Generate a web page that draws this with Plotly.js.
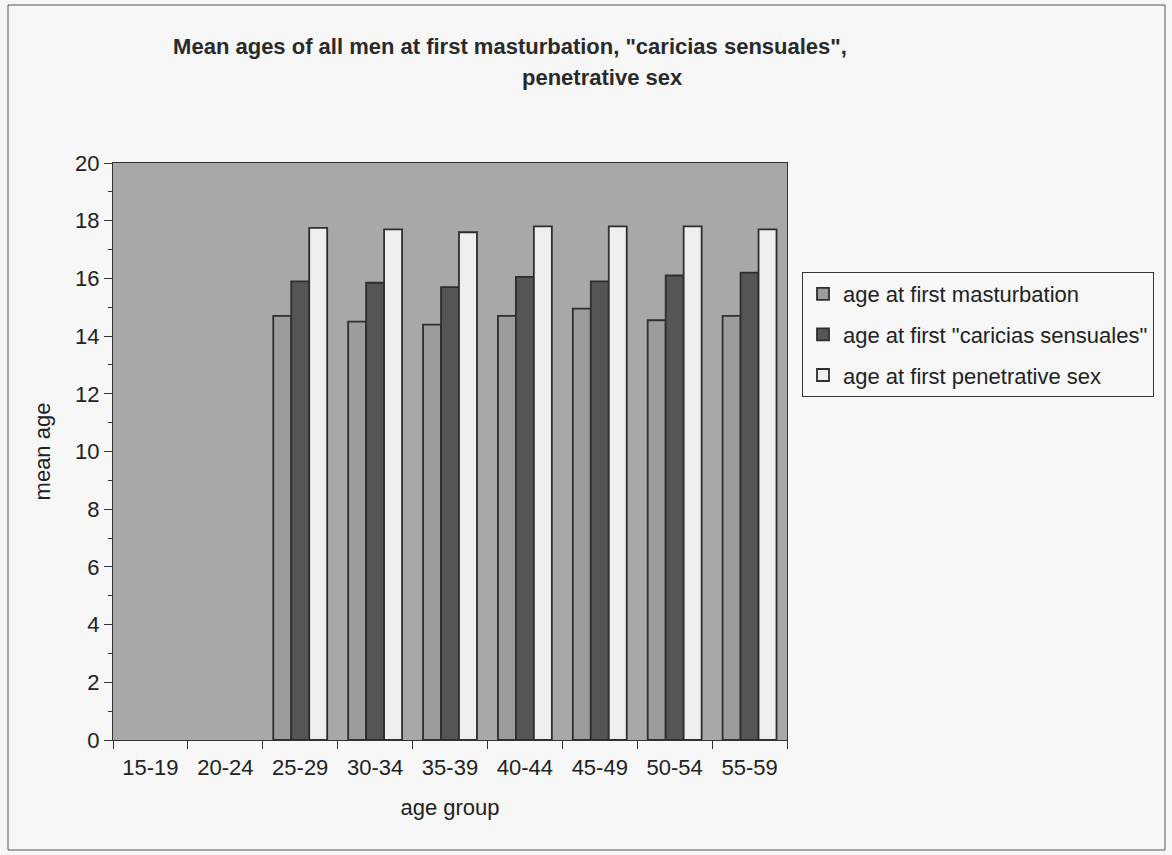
<!DOCTYPE html>
<html>
<head>
<meta charset="utf-8">
<script src="https://cdn.plot.ly/plotly-3.0.1.min.js"></script>
<style>html,body{margin:0;padding:0;background:#f7f7f7;}#chart{width:1172px;height:855px;}</style>
</head>
<body>
<div id="chart"></div>
<script>
const categories = ["15-19","20-24","25-29","30-34","35-39","40-44","45-49","50-54","55-59"];
const masturbation = [null, null, 14.7, 14.5, 14.4, 14.7, 14.95, 14.55, 14.7];
const caricias = [null, null, 15.9, 15.85, 15.7, 16.05, 15.9, 16.1, 16.2];
const penetrative = [null, null, 17.75, 17.7, 17.6, 17.8, 17.8, 17.8, 17.7];
const seriesNames = ["age at first masturbation", "age at first \"caricias sensuales\"", "age at first penetrative sex"];
const titleLines = ["Mean ages of all men at first masturbation, \"caricias sensuales\",", "penetrative sex"];

const font = "Liberation Sans, Arial, sans-serif";
const outline = {color: "#2e2e2e", width: 1.8};
const traces = [
  {type: "bar", x: categories, y: masturbation, name: seriesNames[0], legendgroup: "a", marker: {color: "#9c9c9c", line: outline}},
  {type: "bar", x: categories, y: caricias, name: seriesNames[1], legendgroup: "b", marker: {color: "#555555", line: outline}},
  {type: "bar", x: categories, y: penetrative, name: seriesNames[2], legendgroup: "c", marker: {color: "#efefef", line: outline}}
];

const W = 1172, H = 855, L = 113, R = 787, T = 163, B = 740;
const pw = R - L, ph = B - T;

const layout = {
  width: W, height: H,
  paper_bgcolor: "#f7f7f7",
  plot_bgcolor: "#a8a8a8",
  margin: {l: L, r: W - R, t: T, b: H - B, autoexpand: false},
  font: {family: font, color: "#222", size: 20},
  title: {text: "<b>" + titleLines[0] + "</b>",
          x: 510 / W, xanchor: "center", xref: "container", y: 1 - 39 / H, yanchor: "top", yref: "container",
          font: {family: font, size: 22, color: "#2a2a2a"}},
  annotations: [
    {text: "<b>" + titleLines[1] + "</b>", xref: "paper", yref: "paper",
     x: (602 - L) / pw, y: (B - 78) / ph, xanchor: "center", yanchor: "middle", showarrow: false,
     font: {family: font, size: 22, color: "#2a2a2a"}}
  ],
  barmode: "group",
  bargap: 0.28,
  bargroupgap: 0,
  showlegend: true,
  legend: {x: (802 - L) / pw, y: (B - 272) / ph, xanchor: "left", yanchor: "top",
           bgcolor: "#f7f7f7", bordercolor: "#333", borderwidth: 1,
           font: {family: font, size: 22, color: "#222"}, tracegroupgap: 9, itemwidth: 30},
  xaxis: {
    type: "category", categoryorder: "array", categoryarray: categories,
    tickson: "boundaries", ticks: "outside", ticklen: 8, tickcolor: "#333",
    ticklabelstandoff: 8,
    showline: true, linecolor: "#333", linewidth: 1, mirror: true,
    showgrid: false, zeroline: false, automargin: false,
    tickfont: {family: font, size: 22, color: "#222"},
    title: {text: "age group", font: {family: font, size: 22, color: "#222"}, standoff: 20}
  },
  yaxis: {
    range: [0, 20], dtick: 2, ticks: "outside", ticklen: 8, tickcolor: "#333",
    minor: {dtick: 1, ticks: "outside", ticklen: 4, tickcolor: "#333"},
    showline: true, linecolor: "#333", linewidth: 1, mirror: true,
    showgrid: false, zeroline: false, automargin: false,
    tickfont: {family: font, size: 22, color: "#222"},
    title: {text: "mean age", font: {family: font, size: 22, color: "#222"}, standoff: 18}
  },
  shapes: [
    {type: "rect", xref: "paper", yref: "paper",
     x0: (8 - L) / pw, x1: (1165 - L) / pw, y0: (B - 850) / ph, y1: (B - 5) / ph,
     line: {color: "#555", width: 1}, fillcolor: "rgba(0,0,0,0)", layer: "below"}
  ]
};

Plotly.newPlot("chart", traces, layout, {displayModeBar: false, staticPlot: true});
</script>
</body>
</html>
